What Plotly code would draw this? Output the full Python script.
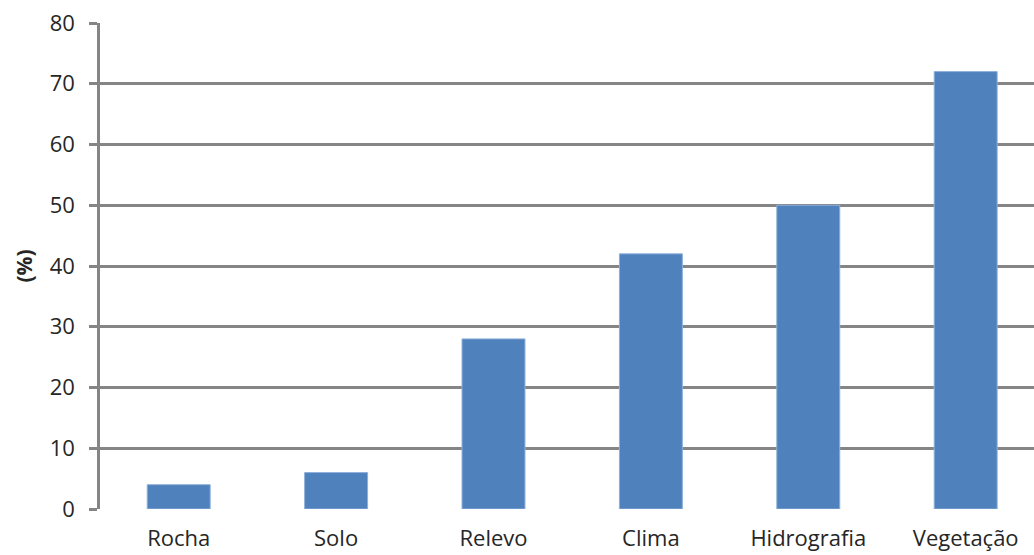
import plotly.graph_objects as go

categories = ["Rocha", "Solo", "Relevo", "Clima", "Hidrografia", "Vegetação"]
values = [4, 6, 28, 42, 50, 72]
y_ticks = [0, 10, 20, 30, 40, 50, 60, 70, 80]

grid_color = "#858585"
font_family = "Open Sans, Lato, sans-serif"
text_color = "#262626"

fig = go.Figure(
    go.Bar(
        x=categories,
        y=values,
        width=0.4,
        marker=dict(color="#4F81BD", line=dict(color="#8DB0DA", width=1)),
    )
)

fig.update_layout(
    width=1034,
    height=555,
    margin=dict(l=100, r=0, t=23, b=46),
    paper_bgcolor="white",
    plot_bgcolor="white",
    showlegend=False,
    font=dict(family=font_family, size=22, color=text_color),
)

fig.update_xaxes(
    type="category",
    range=[-0.5, 5.434],
    automargin=False,
    showgrid=False,
    showline=False,
    ticks="",
    ticklabelstandoff=14,
    tickfont=dict(size=22, family=font_family, color=text_color),
)

fig.update_yaxes(
    range=[0, 80],
    automargin=False,
    tickvals=y_ticks,
    showgrid=True,
    gridcolor=grid_color,
    gridwidth=2.5,
    showline=True,
    linecolor=grid_color,
    linewidth=2.5,
    ticks="outside",
    ticklen=8,
    tickwidth=2.5,
    tickcolor=grid_color,
    ticklabelstandoff=10,
    zeroline=False,
    tickfont=dict(size=22, family=font_family, color=text_color),
    title=dict(text="<b>(%)</b>", font=dict(size=21, family=font_family, color=text_color), standoff=12),
)

fig.write_html("out.html")
